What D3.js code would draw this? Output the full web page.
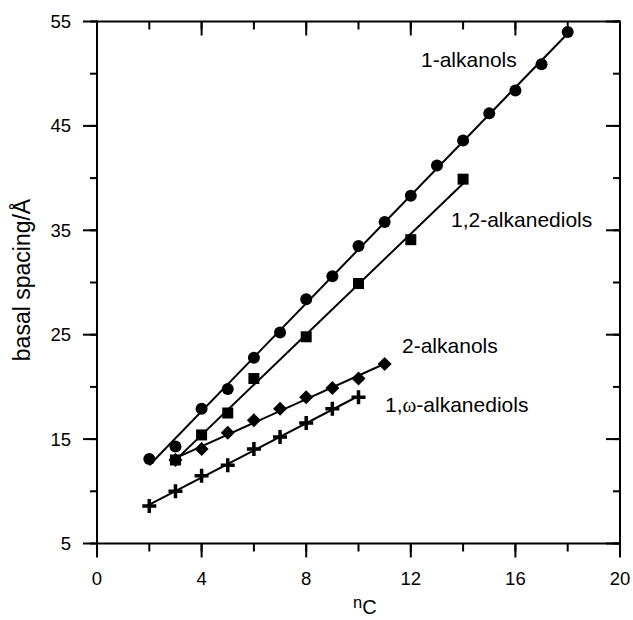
<!DOCTYPE html>
<html><head><meta charset="utf-8">
<script src="https://cdn.jsdelivr.net/npm/d3@7"></script>
<style>body{margin:0;background:#fff}svg{display:block}text{font-family:Arial,"Liberation Sans",sans-serif;fill:#000}</style>
</head><body>
<svg id="c" width="633" height="620"></svg>
<script>
const xTicks = [0,4,8,12,16,20];
const yTicks = [5,15,25,35,45,55];
const alkanolsN = [2,3,4,5,6,7,8,9,10,11,12,13,14,15,16,17,18];
const alkanolsY = [13.1,14.3,17.9,19.8,22.8,25.2,28.4,30.6,33.5,35.8,38.3,41.2,43.6,46.2,48.4,50.9,54.0];
const diols12N = [3,4,5,6,8,10,12,14];
const diols12Y = [13.0,15.4,17.5,20.8,24.8,29.9,34.1,39.9];
const alkanols2N = [3,4,5,6,7,8,9,10,11];
const alkanols2Y = [13.0,14.05,15.6,16.8,17.9,19.0,19.9,20.8,22.2];
const diolsOmegaN = [2,3,4,5,6,7,8,9,10];
const diolsOmegaY = [8.6,10.0,11.5,12.5,14.05,15.2,16.55,17.9,19.0];

const L=97,R=620,T=21.5,B=543.5;
const svg=d3.select("#c");
const x=d3.scaleLinear().domain([0,20]).range([L,R]);
const y=d3.scaleLinear().domain([5,55]).range([B,T]);

svg.append("rect").attr("x",L).attr("y",T).attr("width",R-L).attr("height",B-T)
  .attr("fill","none").attr("stroke","#000").attr("stroke-width",2);

const minorX=d3.range(0,21,2), minorY=d3.range(5,56,5);
function ticks(g,vals,len,orient){
  vals.forEach(v=>{
    if(orient==="b") g.append("line").attr("x1",x(v)).attr("x2",x(v)).attr("y1",B).attr("y2",B+len);
    if(orient==="t") g.append("line").attr("x1",x(v)).attr("x2",x(v)).attr("y1",T).attr("y2",T+len);
    if(orient==="l") g.append("line").attr("y1",y(v)).attr("y2",y(v)).attr("x1",L).attr("x2",L-len);
    if(orient==="r") g.append("line").attr("y1",y(v)).attr("y2",y(v)).attr("x1",R).attr("x2",R-len);
  });
}
const tg=svg.append("g").attr("stroke","#000").attr("stroke-width",2);
ticks(tg,minorX,8,"b"); ticks(tg,xTicks,14,"b");
ticks(tg,minorX,8,"t"); ticks(tg,xTicks,14,"t");
ticks(tg,minorY,7,"l"); ticks(tg,yTicks,14,"l");
ticks(tg,minorY,7,"r"); ticks(tg,yTicks,14,"r");

svg.append("g").selectAll("text").data(xTicks).join("text")
  .attr("x",d=>x(d)).attr("y",585).attr("text-anchor","middle").attr("font-size",18.5).text(d=>d);
svg.append("g").selectAll("text").data(yTicks).join("text")
  .attr("x",71).attr("y",d=>y(d)+6.5).attr("text-anchor","end").attr("font-size",18.5).text(d=>d);

const xt=svg.append("text").attr("x",353).attr("y",608).attr("font-size",16.5);
xt.append("tspan").text("n");
xt.append("tspan").attr("font-size",20).attr("dy",6).text("C");
svg.append("text").attr("transform","translate(30,280) rotate(-90)").attr("text-anchor","middle")
  .attr("font-size",23).text("basal spacing/Å");

function fit(xs,ys){
  const mx=d3.mean(xs),my=d3.mean(ys);
  let sxy=0,sxx=0; xs.forEach((v,i)=>{sxy+=(v-mx)*(ys[i]-my);sxx+=(v-mx)**2;});
  const m=sxy/sxx,b=my-m*mx; return v=>m*v+b;
}
const series=[
  {n:alkanolsN,v:alkanolsY,m:"circle"},
  {n:diols12N,v:diols12Y,m:"square"},
  {n:alkanols2N,v:alkanols2Y,m:"diamond"},
  {n:diolsOmegaN,v:diolsOmegaY,m:"plus"}
];
series.forEach(s=>{
  const f=fit(s.n,s.v), x0=d3.min(s.n), x1=d3.max(s.n);
  svg.append("line").attr("x1",x(x0)).attr("y1",y(f(x0))).attr("x2",x(x1)).attr("y2",y(f(x1)))
    .attr("stroke","#000").attr("stroke-width",2);
});
series.forEach(s=>{
  const g=svg.append("g");
  s.n.forEach((n,i)=>{
    const cx=x(n),cy=y(s.v[i]);
    if(s.m==="circle") g.append("circle").attr("cx",cx).attr("cy",cy).attr("r",6).attr("fill","#000");
    if(s.m==="square") g.append("rect").attr("x",cx-5.5).attr("y",cy-5.5).attr("width",11).attr("height",11).attr("fill","#000");
    if(s.m==="diamond") g.append("path").attr("d",`M${cx},${cy-7}L${cx+7},${cy}L${cx},${cy+7}L${cx-7},${cy}Z`).attr("fill","#000");
    if(s.m==="plus") g.append("path").attr("d",`M${cx-7},${cy}H${cx+7}M${cx},${cy-7}V${cy+7}`).attr("stroke","#000").attr("stroke-width",3.5);
  });
});

const lab=[["1-alkanols",421,67],["1,2-alkanediols",451,227],["2-alkanols",402,353]];
lab.forEach(d=>svg.append("text").attr("x",d[1]).attr("y",d[2]).attr("font-size",21).text(d[0]));
const om=svg.append("text").attr("x",385).attr("y",412).attr("font-size",21);
om.append("tspan").text("1,");
om.append("tspan").attr("font-family","'Liberation Serif','DejaVu Serif',serif").text("ω");
om.append("tspan").text("-alkanediols");
</script>
</body></html>
